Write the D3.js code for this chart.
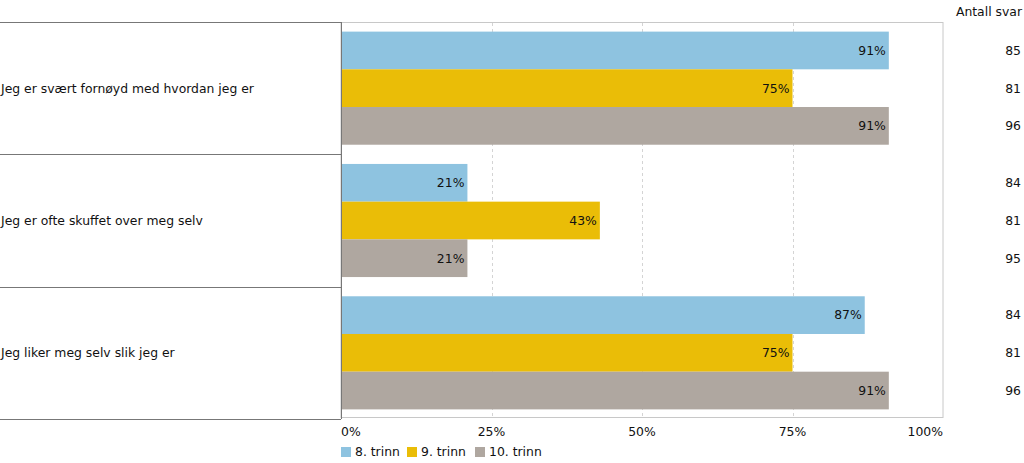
<!DOCTYPE html>
<html><head><meta charset="utf-8">
<script src="https://cdn.jsdelivr.net/npm/d3@7"></script>
<style>body{margin:0;background:#fff}svg{display:block}text{font-family:"DejaVu Sans",Verdana,sans-serif;font-size:12.4px;fill:#111}</style>
</head><body><svg id="c" width="1024" height="463"></svg>
<script>
const categories = ["Jeg er svært fornøyd med hvordan jeg er","Jeg er ofte skuffet over meg selv","Jeg liker meg selv slik jeg er"];
const series = ["8. trinn","9. trinn","10. trinn"];
const colors = ["#8EC3E0","#EABD07","#AFA7A0"];
const v8 = [91,21,87];
const v9 = [75,43,75];
const v10 = [91,21,91];
const n8 = [85,84,84];
const n9 = [81,81,81];
const n10 = [96,95,96];
const ticks = [0,25,50,75,100];
const tickLabels = ["0%","25%","50%","75%","100%"];

const svg = d3.select("#c");
const L = 341, R = 943, T = 22, B = 419;
const x = d3.scaleLinear().domain([0,100]).range([L,R]);
const y = d3.scaleBand().domain(categories).range([T,B]).paddingInner(0).paddingOuter(0);
const inner = d3.scaleBand().domain(series).range([0,y.bandwidth()]).paddingInner(0).paddingOuter(0.255);
const vals = [v8,v9,v10], ns=[n8,n9,n10];

// plot border
svg.append("rect").attr("x",L).attr("y",T+0.5).attr("width",R-L).attr("height",B-T-2).attr("fill","none").attr("stroke","#c8c8c8");
// grid
svg.selectAll(".g").data(ticks.slice(1,-1)).join("line").attr("x1",d=>Math.round(x(d))+0.5).attr("x2",d=>Math.round(x(d))+0.5)
  .attr("y1",T+1).attr("y2",B-2).attr("stroke","#d4d4d4").attr("stroke-dasharray","3,3");
// bars
categories.forEach((c,ci)=>{
  series.forEach((s,si)=>{
    const v = vals[si][ci];
    const y0 = y(c)+inner(s);
    svg.append("rect").attr("x",x(0)+1).attr("y",y0).attr("width",x(v)-x(0)-1).attr("height",inner.bandwidth()).attr("fill",colors[si]);
    svg.append("text").attr("x",x(v)-3).attr("y",y0+inner.bandwidth()/2).attr("dy","0.35em").attr("text-anchor","end").text(v+"%");
    svg.append("text").attr("x",1021).attr("y",y0+inner.bandwidth()/2).attr("dy","0.35em").attr("text-anchor","end").text(ns[si][ci]);
  });
  svg.append("text").attr("x",1).attr("y",y(c)+y.bandwidth()/2).attr("dy","0.35em").text(c);
});
// left box lines
const seps = categories.map(c=>y(c)).concat([B]);
svg.selectAll(".s").data(seps).join("line").attr("x1",0).attr("x2",L).attr("y1",d=>Math.round(d)+0.5).attr("y2",d=>Math.round(d)+0.5).attr("stroke","#777");
svg.append("line").attr("x1",L+0.5).attr("x2",L+0.5).attr("y1",T).attr("y2",B).attr("stroke","#777");
// axis labels
svg.selectAll(".t").data(ticks).join("text").attr("x",d=>x(d)).attr("y",436)
  .attr("text-anchor",(d,i)=>i==0?"start":i==ticks.length-1?"end":"middle").text((d,i)=>tickLabels[i]);
// header
svg.append("text").attr("x",1022).attr("y",16).attr("text-anchor","end").text("Antall svar");
// legend
const lx=[341,407,475];
series.forEach((s,i)=>{
  svg.append("rect").attr("x",lx[i]).attr("y",447).attr("width",10).attr("height",10).attr("fill",colors[i]);
  svg.append("text").attr("x",lx[i]+14).attr("y",456).text(s);
});
</script></body></html>
